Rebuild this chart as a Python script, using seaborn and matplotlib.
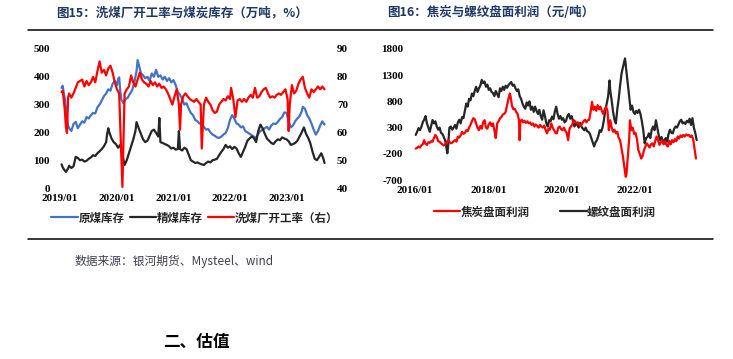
import matplotlib
matplotlib.use('Agg')
import matplotlib.pyplot as plt
import matplotlib.dates as mdates
from matplotlib.lines import Line2D
import seaborn as sns
import pandas as pd

# ---------------- data ----------------
raw_coal_stock = [  # 原煤库存 (万吨)
    ("2019-01-11", 360), ("2019-01-18", 368), ("2019-01-25", 345), ("2019-02-01", 320), ("2019-02-08", 290),
    ("2019-02-15", 250), ("2019-02-22", 225), ("2019-03-01", 215), ("2019-03-15", 205), ("2019-03-29", 230),
    ("2019-04-12", 238), ("2019-04-26", 215), ("2019-05-10", 228), ("2019-05-24", 240), ("2019-06-07", 235),
    ("2019-06-21", 255), ("2019-07-05", 250), ("2019-07-19", 262), ("2019-08-02", 270), ("2019-08-16", 268),
    ("2019-08-30", 290), ("2019-09-13", 300), ("2019-09-27", 315), ("2019-10-11", 330), ("2019-10-25", 340),
    ("2019-11-08", 355), ("2019-11-22", 350), ("2019-12-06", 375), ("2019-12-20", 385), ("2020-01-03", 370),
    ("2020-01-10", 392), ("2020-01-17", 398), ("2020-01-24", 350), ("2020-01-31", 318), ("2020-02-14", 305),
    ("2020-02-28", 320), ("2020-03-13", 325), ("2020-03-27", 340), ("2020-04-10", 352), ("2020-04-24", 380),
    ("2020-05-08", 420), ("2020-05-15", 460), ("2020-05-22", 445), ("2020-06-05", 414), ("2020-06-19", 405),
    ("2020-07-03", 395), ("2020-07-17", 400), ("2020-07-31", 385), ("2020-08-14", 412), ("2020-08-28", 400),
    ("2020-09-11", 425), ("2020-09-25", 400), ("2020-10-09", 405), ("2020-10-23", 390), ("2020-11-06", 400),
    ("2020-11-20", 385), ("2020-12-04", 395), ("2020-12-18", 380), ("2021-01-01", 388), ("2021-01-15", 370),
    ("2021-01-29", 345), ("2021-02-12", 335), ("2021-02-26", 320), ("2021-03-12", 300), ("2021-03-26", 305),
    ("2021-04-09", 285), ("2021-04-23", 270), ("2021-05-07", 262), ("2021-05-21", 245), ("2021-06-04", 240),
    ("2021-06-18", 232), ("2021-07-02", 228), ("2021-07-16", 220), ("2021-07-30", 210), ("2021-08-13", 212),
    ("2021-08-27", 200), ("2021-09-10", 192), ("2021-09-24", 188), ("2021-10-08", 182), ("2021-10-22", 180),
    ("2021-11-05", 185), ("2021-11-19", 192), ("2021-12-03", 198), ("2021-12-17", 215), ("2021-12-31", 245),
    ("2022-01-14", 262), ("2022-01-28", 250), ("2022-02-11", 232), ("2022-02-25", 228), ("2022-03-11", 218),
    ("2022-03-25", 222), ("2022-04-08", 205), ("2022-04-22", 200), ("2022-05-06", 195), ("2022-05-20", 190),
    ("2022-06-03", 185), ("2022-06-17", 180), ("2022-07-01", 195), ("2022-07-15", 205), ("2022-07-29", 210),
    ("2022-08-12", 215), ("2022-08-26", 220), ("2022-09-09", 210), ("2022-09-23", 225), ("2022-10-07", 232),
    ("2022-10-21", 230), ("2022-11-04", 238), ("2022-11-18", 248), ("2022-12-02", 255), ("2022-12-16", 272),
    ("2022-12-30", 270), ("2023-01-13", 240), ("2023-01-27", 218), ("2023-02-10", 225), ("2023-02-24", 240),
    ("2023-03-10", 250), ("2023-03-24", 258), ("2023-04-07", 275), ("2023-04-14", 292), ("2023-04-28", 285),
    ("2023-05-12", 262), ("2023-05-26", 250), ("2023-06-09", 232), ("2023-06-23", 210), ("2023-07-07", 192),
    ("2023-07-21", 205), ("2023-08-04", 225), ("2023-08-18", 240), ("2023-09-01", 228),
]

clean_coal_stock = [  # 精煤库存 (万吨)
    ("2019-01-11", 85), ("2019-01-18", 75), ("2019-01-25", 68), ("2019-02-08", 58), ("2019-02-22", 70),
    ("2019-03-01", 80), ("2019-03-15", 72), ("2019-03-29", 78), ("2019-04-12", 112), ("2019-04-26", 108),
    ("2019-05-10", 100), ("2019-05-24", 102), ("2019-06-07", 95), ("2019-06-21", 98), ("2019-07-05", 105),
    ("2019-07-19", 110), ("2019-08-02", 118), ("2019-08-16", 115), ("2019-08-30", 125), ("2019-09-13", 132),
    ("2019-09-27", 140), ("2019-10-11", 150), ("2019-10-25", 165), ("2019-11-01", 195), ("2019-11-08", 215),
    ("2019-11-15", 200), ("2019-11-29", 178), ("2019-12-13", 165), ("2019-12-27", 158), ("2020-01-10", 145),
    ("2020-01-24", 155), ("2020-02-07", 120), ("2020-02-21", 83), ("2020-03-06", 100), ("2020-03-20", 125),
    ("2020-04-03", 150), ("2020-04-17", 175), ("2020-05-01", 205), ("2020-05-08", 237), ("2020-05-22", 215),
    ("2020-06-05", 195), ("2020-06-19", 175), ("2020-07-03", 165), ("2020-07-17", 170), ("2020-07-31", 188),
    ("2020-08-14", 205), ("2020-08-28", 210), ("2020-09-11", 198), ("2020-09-25", 185), ("2020-10-02", 252),
    ("2020-10-09", 165), ("2020-10-23", 162), ("2020-11-06", 158), ("2020-11-20", 155), ("2020-12-04", 150),
    ("2020-12-18", 142), ("2021-01-01", 145), ("2021-01-15", 138), ("2021-01-29", 140), ("2021-02-05", 205),
    ("2021-02-12", 140), ("2021-02-26", 135), ("2021-03-12", 145), ("2021-03-26", 140), ("2021-04-09", 120),
    ("2021-04-23", 100), ("2021-05-07", 95), ("2021-05-21", 90), ("2021-06-04", 92), ("2021-06-18", 88),
    ("2021-07-02", 85), ("2021-07-16", 83), ("2021-07-30", 90), ("2021-08-13", 95), ("2021-08-27", 92),
    ("2021-09-10", 100), ("2021-09-24", 102), ("2021-10-08", 105), ("2021-10-22", 118), ("2021-11-05", 130),
    ("2021-11-19", 140), ("2021-12-03", 155), ("2021-12-17", 145), ("2021-12-31", 150), ("2022-01-14", 140),
    ("2022-01-28", 148), ("2022-02-11", 142), ("2022-02-25", 125), ("2022-03-11", 112), ("2022-03-25", 130),
    ("2022-04-08", 148), ("2022-04-22", 170), ("2022-05-06", 178), ("2022-05-20", 185), ("2022-06-03", 180),
    ("2022-06-17", 165), ("2022-07-01", 205), ("2022-07-15", 228), ("2022-07-29", 215), ("2022-08-12", 195),
    ("2022-08-26", 178), ("2022-09-09", 170), ("2022-09-23", 162), ("2022-10-07", 158), ("2022-10-21", 168),
    ("2022-11-04", 175), ("2022-11-18", 172), ("2022-12-02", 182), ("2022-12-16", 178), ("2022-12-30", 175),
    ("2023-01-13", 168), ("2023-01-27", 155), ("2023-02-10", 158), ("2023-02-24", 162), ("2023-03-10", 170),
    ("2023-03-24", 185), ("2023-04-07", 200), ("2023-04-21", 218), ("2023-05-05", 195), ("2023-05-19", 180),
    ("2023-06-02", 160), ("2023-06-16", 130), ("2023-06-30", 105), ("2023-07-14", 100), ("2023-07-28", 112),
    ("2023-08-11", 125), ("2023-08-25", 105), ("2023-09-01", 90),
]

washing_rate = [  # 洗煤厂开工率 (%), right axis
    ("2019-01-11", 74.5), ("2019-01-18", 75), ("2019-01-25", 72), ("2019-02-01", 68), ("2019-02-08", 62),
    ("2019-02-15", 59.8), ("2019-02-22", 72.5), ("2019-03-01", 74), ("2019-03-15", 72.5), ("2019-03-29", 74),
    ("2019-04-12", 76), ("2019-04-26", 78), ("2019-05-10", 78.5), ("2019-05-24", 79), ("2019-06-07", 76.5),
    ("2019-06-21", 78.5), ("2019-07-05", 77), ("2019-07-19", 78), ("2019-08-02", 80), ("2019-08-16", 78),
    ("2019-08-30", 82), ("2019-09-13", 85.5), ("2019-09-27", 81.5), ("2019-10-11", 82.5), ("2019-10-25", 80.5),
    ("2019-11-08", 83), ("2019-11-22", 84), ("2019-12-06", 81.5), ("2019-12-20", 78), ("2020-01-03", 75.5),
    ("2020-01-17", 74), ("2020-02-07", 40.4), ("2020-02-21", 74), ("2020-03-06", 75.5), ("2020-03-20", 76.5),
    ("2020-04-03", 80.5), ("2020-04-17", 78), ("2020-05-01", 76.5), ("2020-05-15", 79), ("2020-05-29", 81.5),
    ("2020-06-12", 79), ("2020-06-26", 78), ("2020-07-10", 77.5), ("2020-07-24", 76.5), ("2020-08-07", 78.5),
    ("2020-08-21", 77), ("2020-09-04", 78), ("2020-09-18", 76.5), ("2020-10-02", 77.5), ("2020-10-16", 76),
    ("2020-10-30", 76.5), ("2020-11-13", 75.5), ("2020-11-27", 74), ("2020-12-11", 72), ("2020-12-25", 70),
    ("2021-01-08", 73), ("2021-01-22", 75.5), ("2021-02-05", 70), ("2021-02-12", 61), ("2021-02-19", 70),
    ("2021-03-05", 73), ("2021-03-19", 74), ("2021-04-02", 73), ("2021-04-16", 72), ("2021-04-30", 71.5),
    ("2021-05-14", 71), ("2021-05-28", 72), ("2021-06-11", 71), ("2021-06-25", 70), ("2021-07-02", 54.2),
    ("2021-07-16", 70), ("2021-07-30", 72.5), ("2021-08-13", 71), ("2021-08-27", 70), ("2021-09-10", 68),
    ("2021-09-24", 67), ("2021-10-08", 67.5), ("2021-10-22", 70), ("2021-11-05", 71), ("2021-11-19", 72),
    ("2021-12-03", 71.5), ("2021-12-17", 73), ("2021-12-31", 72), ("2022-01-07", 76), ("2022-01-21", 72),
    ("2022-02-04", 65.5), ("2022-02-18", 71.5), ("2022-03-04", 72), ("2022-03-18", 71), ("2022-04-01", 72),
    ("2022-04-15", 71), ("2022-04-29", 72.5), ("2022-05-13", 73.5), ("2022-05-27", 72.5), ("2022-06-10", 76),
    ("2022-06-24", 72.5), ("2022-07-08", 73), ("2022-07-22", 74.5), ("2022-08-05", 75.5), ("2022-08-19", 76),
    ("2022-09-02", 74), ("2022-09-16", 72.5), ("2022-09-30", 73), ("2022-10-14", 72.5), ("2022-10-28", 73.5),
    ("2022-11-11", 74), ("2022-11-25", 73.5), ("2022-12-09", 74.5), ("2022-12-23", 75.5), ("2023-01-06", 72),
    ("2023-01-13", 60.5), ("2023-01-20", 70), ("2023-02-03", 77), ("2023-02-17", 74), ("2023-03-03", 75),
    ("2023-03-17", 77.5), ("2023-03-31", 79), ("2023-04-14", 80), ("2023-04-28", 76), ("2023-05-12", 74),
    ("2023-05-26", 72.5), ("2023-06-09", 75.5), ("2023-06-23", 74.5), ("2023-07-07", 75.5), ("2023-07-21", 76.5),
    ("2023-08-04", 75.5), ("2023-08-18", 76.5), ("2023-09-01", 75.5),
]

coke_profit = [  # 焦炭盘面利润 (元/吨)
    ("2016-01-08", -100), ("2016-01-22", -90), ("2016-02-05", -60), ("2016-02-19", -80), ("2016-03-04", -40),
    ("2016-03-18", -20), ("2016-04-01", 60), ("2016-04-15", -10), ("2016-04-29", -30), ("2016-05-13", 20),
    ("2016-05-27", 10), ("2016-06-10", 40), ("2016-06-24", 30), ("2016-07-08", 100), ("2016-07-22", 160),
    ("2016-08-05", 120), ("2016-08-19", 40), ("2016-09-02", 30), ("2016-09-16", 0), ("2016-09-30", -20),
    ("2016-10-14", -40), ("2016-10-28", -20), ("2016-11-11", 20), ("2016-11-25", 60), ("2016-12-09", 30),
    ("2016-12-23", 0), ("2017-01-06", 10), ("2017-01-20", 40), ("2017-02-03", 60), ("2017-02-17", 30),
    ("2017-03-03", 130), ("2017-03-17", 110), ("2017-03-31", 150), ("2017-04-14", 220), ("2017-04-28", 180),
    ("2017-05-12", 200), ("2017-05-26", 250), ("2017-06-09", 230), ("2017-06-23", 300), ("2017-07-07", 350),
    ("2017-07-21", 420), ("2017-08-04", 480), ("2017-08-18", 460), ("2017-09-01", 380), ("2017-09-15", 300),
    ("2017-09-29", 250), ("2017-10-13", 330), ("2017-10-27", 280), ("2017-11-10", 400), ("2017-11-24", 440),
    ("2017-12-08", 300), ("2017-12-22", 280), ("2018-01-05", 360), ("2018-01-19", 400), ("2018-02-02", 330),
    ("2018-02-16", 380), ("2018-03-02", 250), ("2018-03-16", 100), ("2018-03-30", 380), ("2018-04-13", 420),
    ("2018-04-27", 480), ("2018-05-11", 500), ("2018-05-25", 550), ("2018-06-08", 560), ("2018-06-22", 600),
    ("2018-07-06", 720), ("2018-07-20", 850), ("2018-08-03", 950), ("2018-08-10", 900), ("2018-08-24", 720),
    ("2018-09-07", 650), ("2018-09-21", 660), ("2018-10-05", 600), ("2018-10-19", 560), ("2018-11-02", 450),
    ("2018-11-09", 60), ("2018-11-16", 420), ("2018-11-30", 450), ("2018-12-14", 400), ("2018-12-28", 430),
    ("2019-01-11", 390), ("2019-01-25", 420), ("2019-02-08", 380), ("2019-02-22", 400), ("2019-03-08", 350),
    ("2019-03-22", 380), ("2019-04-05", 320), ("2019-04-19", 360), ("2019-05-03", 330), ("2019-05-17", 300),
    ("2019-05-31", 350), ("2019-06-14", 320), ("2019-06-28", 300), ("2019-07-12", 340), ("2019-07-26", 250),
    ("2019-08-09", 190), ("2019-08-23", 280), ("2019-09-06", 260), ("2019-09-20", 380), ("2019-10-04", 300),
    ("2019-10-18", 250), ("2019-11-01", 200), ("2019-11-15", 190), ("2019-11-29", 300), ("2019-12-13", 320),
    ("2019-12-27", 270), ("2020-01-10", 250), ("2020-01-24", 300), ("2020-02-07", 240), ("2020-02-21", 200),
    ("2020-03-06", 60), ("2020-03-20", 280), ("2020-04-03", 320), ("2020-04-17", 360), ("2020-05-01", 440),
    ("2020-05-15", 420), ("2020-05-29", 380), ("2020-06-12", 400), ("2020-06-26", 350), ("2020-07-10", 330),
    ("2020-07-24", 380), ("2020-08-07", 420), ("2020-08-21", 450), ("2020-09-04", 400), ("2020-09-18", 440),
    ("2020-10-02", 450), ("2020-10-16", 600), ("2020-10-30", 790), ("2020-11-13", 640), ("2020-11-27", 700),
    ("2020-12-11", 620), ("2020-12-25", 730), ("2021-01-08", 650), ("2021-01-22", 700), ("2021-02-05", 620),
    ("2021-02-19", 560), ("2021-03-05", 640), ("2021-03-19", 700), ("2021-04-02", 620), ("2021-04-16", 250),
    ("2021-04-30", 440), ("2021-05-14", 300), ("2021-05-28", 220), ("2021-06-11", 260), ("2021-06-25", 190),
    ("2021-07-09", 220), ("2021-07-23", 100), ("2021-08-06", 60), ("2021-08-20", -100), ("2021-09-03", -250),
    ("2021-09-17", -450), ("2021-10-01", -640), ("2021-10-08", -600), ("2021-10-22", -250), ("2021-11-05", 100),
    ("2021-11-12", 440), ("2021-11-26", 250), ("2021-12-10", 300), ("2021-12-24", 180), ("2022-01-07", 200),
    ("2022-01-21", 80), ("2022-02-04", -130), ("2022-02-18", -200), ("2022-03-04", -290), ("2022-03-18", -240),
    ("2022-04-01", -130), ("2022-04-15", -60), ("2022-04-29", 0), ("2022-05-13", -40), ("2022-05-27", -80),
    ("2022-06-10", -20), ("2022-06-24", 0), ("2022-07-08", -60), ("2022-07-22", 40), ("2022-08-05", 130),
    ("2022-08-19", 60), ("2022-09-02", -30), ("2022-09-16", 20), ("2022-09-30", 60), ("2022-10-14", -20),
    ("2022-10-28", 30), ("2022-11-11", -30), ("2022-11-25", -60), ("2022-12-09", 50), ("2022-12-23", -20),
    ("2023-01-06", 60), ("2023-01-20", 20), ("2023-02-03", 80), ("2023-02-17", 40), ("2023-03-03", 130),
    ("2023-03-17", 90), ("2023-03-31", 150), ("2023-04-14", 120), ("2023-04-28", 160), ("2023-05-12", 130),
    ("2023-05-26", 170), ("2023-06-09", 150), ("2023-06-23", 160), ("2023-07-07", 120), ("2023-07-21", 150),
    ("2023-08-04", 80), ("2023-08-18", -100), ("2023-09-01", -290),
]

rebar_profit = [  # 螺纹盘面利润 (元/吨)
    ("2016-01-08", 160), ("2016-01-22", 220), ("2016-02-05", 290), ("2016-02-19", 250), ("2016-03-04", 310),
    ("2016-03-18", 400), ("2016-04-01", 450), ("2016-04-15", 520), ("2016-04-29", 380), ("2016-05-13", 300),
    ("2016-05-27", 220), ("2016-06-10", 330), ("2016-06-24", 445), ("2016-07-08", 380), ("2016-07-22", 420),
    ("2016-08-05", 320), ("2016-08-19", 260), ("2016-09-02", 300), ("2016-09-16", 200), ("2016-09-30", 180),
    ("2016-10-14", 120), ("2016-10-28", 50), ("2016-11-11", -100), ("2016-11-18", -190), ("2016-11-25", -80),
    ("2016-12-09", 300), ("2016-12-23", 320), ("2017-01-06", 260), ("2017-01-20", 300), ("2017-02-03", 350),
    ("2017-02-17", 280), ("2017-03-03", 400), ("2017-03-17", 450), ("2017-03-31", 380), ("2017-04-14", 500),
    ("2017-04-28", 480), ("2017-05-12", 620), ("2017-05-26", 760), ("2017-06-09", 700), ("2017-06-23", 850),
    ("2017-07-07", 820), ("2017-07-21", 950), ("2017-08-04", 900), ("2017-08-18", 1000), ("2017-09-01", 1080),
    ("2017-09-15", 980), ("2017-09-29", 1050), ("2017-10-13", 1100), ("2017-10-27", 1210), ("2017-11-10", 1150),
    ("2017-11-24", 1180), ("2017-12-08", 1080), ("2017-12-22", 1120), ("2018-01-05", 1020), ("2018-01-19", 1050),
    ("2018-02-02", 980), ("2018-02-16", 960), ("2018-03-02", 900), ("2018-03-16", 1000), ("2018-03-30", 940),
    ("2018-04-13", 880), ("2018-04-27", 1050), ("2018-05-11", 1000), ("2018-05-25", 1080), ("2018-06-08", 1020),
    ("2018-06-22", 1100), ("2018-07-06", 1060), ("2018-07-20", 1110), ("2018-08-03", 1140), ("2018-08-17", 1170),
    ("2018-08-31", 1100), ("2018-09-14", 1120), ("2018-09-28", 1050), ("2018-10-12", 1000), ("2018-10-26", 1030),
    ("2018-11-09", 900), ("2018-11-23", 850), ("2018-12-07", 760), ("2018-12-21", 700), ("2019-01-04", 660),
    ("2019-01-18", 780), ("2019-02-01", 720), ("2019-02-15", 800), ("2019-03-01", 640), ("2019-03-15", 700),
    ("2019-03-29", 600), ("2019-04-12", 700), ("2019-04-26", 620), ("2019-05-10", 560), ("2019-05-24", 640),
    ("2019-06-07", 520), ("2019-06-21", 450), ("2019-07-05", 630), ("2019-07-19", 520), ("2019-08-02", 380),
    ("2019-08-16", 320), ("2019-08-30", 440), ("2019-09-13", 420), ("2019-09-27", 510), ("2019-10-11", 460),
    ("2019-10-25", 600), ("2019-11-08", 700), ("2019-11-22", 560), ("2019-12-06", 470), ("2019-12-20", 520),
    ("2020-01-03", 450), ("2020-01-17", 480), ("2020-01-31", 400), ("2020-02-14", 430), ("2020-02-28", 520),
    ("2020-03-13", 560), ("2020-03-27", 470), ("2020-04-10", 520), ("2020-04-24", 420), ("2020-05-08", 320),
    ("2020-05-22", 380), ("2020-06-05", 350), ("2020-06-19", 300), ("2020-07-03", 390), ("2020-07-17", 320),
    ("2020-07-31", 280), ("2020-08-14", 250), ("2020-08-28", 300), ("2020-09-11", 230), ("2020-09-25", 220),
    ("2020-10-09", 180), ("2020-10-23", 100), ("2020-11-06", 20), ("2020-11-20", -60), ("2020-12-04", 20),
    ("2020-12-18", 60), ("2021-01-01", 140), ("2021-01-15", 250), ("2021-01-29", 220), ("2021-02-12", 300),
    ("2021-02-26", 450), ("2021-03-12", 640), ("2021-03-26", 760), ("2021-04-09", 900), ("2021-04-23", 1200),
    ("2021-04-30", 1000), ("2021-05-14", 820), ("2021-05-28", 600), ("2021-06-11", 450), ("2021-06-25", 380),
    ("2021-07-09", 650), ("2021-07-23", 850), ("2021-08-06", 1100), ("2021-08-20", 1330), ("2021-09-03", 1450),
    ("2021-09-17", 1560), ("2021-09-24", 1620), ("2021-10-01", 1500), ("2021-10-15", 1250), ("2021-10-29", 1000),
    ("2021-11-05", 880), ("2021-11-19", 640), ("2021-12-03", 720), ("2021-12-17", 600), ("2021-12-31", 560),
    ("2022-01-14", 620), ("2022-01-28", 580), ("2022-02-11", 640), ("2022-02-25", 560), ("2022-03-11", 420),
    ("2022-03-25", 250), ("2022-04-08", 0), ("2022-04-22", 100), ("2022-05-06", 120), ("2022-05-20", 190),
    ("2022-06-03", 100), ("2022-06-17", 260), ("2022-07-01", 320), ("2022-07-15", 250), ("2022-07-29", 440),
    ("2022-08-12", 300), ("2022-08-26", 150), ("2022-09-09", 60), ("2022-09-23", 120), ("2022-10-07", 10),
    ("2022-10-21", 60), ("2022-11-04", 100), ("2022-11-18", 30), ("2022-12-02", 180), ("2022-12-16", 260),
    ("2022-12-30", 200), ("2023-01-13", 190), ("2023-01-27", 280), ("2023-02-10", 320), ("2023-02-24", 300),
    ("2023-03-10", 360), ("2023-03-24", 420), ("2023-04-07", 450), ("2023-04-21", 380), ("2023-05-05", 400),
    ("2023-05-19", 370), ("2023-06-02", 430), ("2023-06-16", 400), ("2023-06-30", 470), ("2023-07-14", 350),
    ("2023-07-28", 480), ("2023-08-11", 300), ("2023-08-25", 200), ("2023-09-08", 60),
]

left_yticks = [0, 100, 200, 300, 400, 500]
right_yticks = [40, 50, 60, 70, 80, 90]
left_xticks = ["2019-01-01", "2020-01-01", "2021-01-01", "2022-01-01", "2023-01-01"]
left_xlabels = ["2019/01", "2020/01", "2021/01", "2022/01", "2023/01"]
prof_yticks = [-700, -200, 300, 800, 1300, 1800]
prof_xticks = ["2016-01-01", "2018-01-01", "2020-01-01", "2022-01-01"]
prof_xlabels = ["2016/01", "2018/01", "2020/01", "2022/01"]

title_left = "图15：洗煤厂开工率与煤炭库存（万吨，%）"
title_right = "图16：焦炭与螺纹盘面利润（元/吨）"
legend_left = ["原煤库存", "精煤库存", "洗煤厂开工率（右）"]
legend_right = ["焦炭盘面利润", "螺纹盘面利润"]
source_text = "数据来源：银河期货、Mysteel、wind"
heading_text = "二、估值"

# ---------------- styling ----------------
sns.set_theme(style="white")
plt.rcParams['font.family'] = ['Noto Sans CJK SC', 'DejaVu Sans']
plt.rcParams['axes.unicode_minus'] = False

BLUE, BLACK, RED = "#4472C4", "#262626", "#FF0000"
NAVY = "#1F3864"
TICKFONT = dict(family="Liberation Serif", weight="bold", size=8)

W, H = 733, 359
fig = plt.figure(figsize=(W / 100, H / 100), dpi=100)
fig.patch.set_facecolor("white")


def fx(px):
    return px / W


def fy(py):
    return 1 - py / H


def add_ax(l, t, r, b):
    return fig.add_axes([fx(l), fy(b), (r - l) / W, (b - t) / H])


def to_df(pairs):
    return pd.DataFrame({"date": pd.to_datetime([p[0] for p in pairs]),
                         "value": [p[1] for p in pairs]})


def style_ax(ax):
    for s in ax.spines.values():
        s.set_visible(False)
    ax.set_xlabel("")
    ax.set_ylabel("")
    ax.grid(False)
    ax.patch.set_alpha(0)


# ---------------- left chart ----------------
L_l, L_t, L_r, L_b = 55, 49, 330, 188
ax1 = add_ax(L_l, L_t, L_r, L_b)
sns.lineplot(data=to_df(raw_coal_stock), x="date", y="value", ax=ax1, color=BLUE, lw=1.6, estimator=None)
sns.lineplot(data=to_df(clean_coal_stock), x="date", y="value", ax=ax1, color=BLACK, lw=1.6, estimator=None)
ax1b = ax1.twinx()
sns.lineplot(data=to_df(washing_rate), x="date", y="value", ax=ax1b, color=RED, lw=1.6, estimator=None)

d0 = mdates.date2num(pd.Timestamp("2019-01-01"))
ppd = 56.7 / 365.25
ax1.set_xlim(d0 + (L_l - 60) / ppd, d0 + (L_r - 60) / ppd)
ax1.set_ylim(0, 500)
ax1b.set_ylim(40, 90)
ax1.set_yticks(left_yticks)
ax1.set_yticklabels([str(v) for v in left_yticks], fontdict=TICKFONT)
ax1b.set_yticks(right_yticks)
ax1b.set_yticklabels([str(v) for v in right_yticks], fontdict=TICKFONT)
ax1.set_xticks(mdates.date2num(pd.to_datetime(left_xticks)))
ax1.set_xticklabels(left_xlabels, fontdict=TICKFONT)
for a in (ax1, ax1b):
    style_ax(a)
ax1.tick_params(axis="y", length=0, pad=3.6, colors="black")
ax1.tick_params(axis="x", length=0, pad=4.5, colors="black")
ax1b.tick_params(axis="y", length=0, pad=5, colors="black")

# ---------------- right chart ----------------
R_l, R_t, R_r, R_b = 410, 49, 705, 180
ax2 = add_ax(R_l, R_t, R_r, R_b)
sns.lineplot(data=to_df(rebar_profit), x="date", y="value", ax=ax2, color=BLACK, lw=1.6, estimator=None)
sns.lineplot(data=to_df(coke_profit), x="date", y="value", ax=ax2, color=RED, lw=1.6, estimator=None)
d1 = mdates.date2num(pd.Timestamp("2016-01-01"))
ppd2 = 36.65 / 365.25
ax2.set_xlim(d1 + (R_l - 415) / ppd2, d1 + (R_r - 415) / ppd2)
ax2.set_ylim(-700, 1800)
ax2.set_yticks(prof_yticks)
ax2.set_yticklabels([str(v) for v in prof_yticks], fontdict=TICKFONT)
ax2.set_xticks(mdates.date2num(pd.to_datetime(prof_xticks)))
ax2.set_xticklabels(prof_xlabels, fontdict=TICKFONT)
style_ax(ax2)
ax2.tick_params(axis="y", length=0, pad=5, colors="black")
ax2.tick_params(axis="x", length=0, pad=4, colors="black")

# ---------------- legends ----------------
leg_font = dict(family=['Noto Sans CJK SC', 'DejaVu Sans'], weight="bold", size=8.3)
h_left = [Line2D([], [], color=c, lw=1.6) for c in (BLUE, BLACK, RED)]
fig.legend(h_left, legend_left, loc="center", bbox_to_anchor=(fx(195), fy(218)), ncol=3,
           frameon=False, prop=leg_font, handlelength=2.3, handletextpad=0.05, columnspacing=0.45,
           borderpad=0, borderaxespad=0)
h_right = [Line2D([], [], color=c, lw=1.6) for c in (RED, BLACK)]
fig.legend(h_right, legend_right, loc="center", bbox_to_anchor=(fx(545), fy(212)), ncol=2,
           frameon=False, prop=leg_font, handlelength=2.3, handletextpad=0.05, columnspacing=2.6,
           borderpad=0, borderaxespad=0)

# ---------------- titles, rules, footer ----------------
fig.text(fx(56), fy(13), title_left, ha="left", va="center", fontsize=9, fontweight="bold", color=NAVY)
fig.text(fx(387), fy(13), title_right, ha="left", va="center", fontsize=9, fontweight="bold", color=NAVY)
for yy in (30, 239):
    fig.add_artist(Line2D([fx(28), fx(713)], [fy(yy), fy(yy)], color="black", lw=1.1,
                          transform=fig.transFigure))
fig.text(fx(75), fy(261), source_text, ha="left", va="center", fontsize=8.5, color="#404050")
fig.text(fx(163), fy(342), heading_text, ha="left", va="center", fontsize=12, fontweight="bold", color="black")

fig.savefig("out.png", dpi=100, facecolor="white")
